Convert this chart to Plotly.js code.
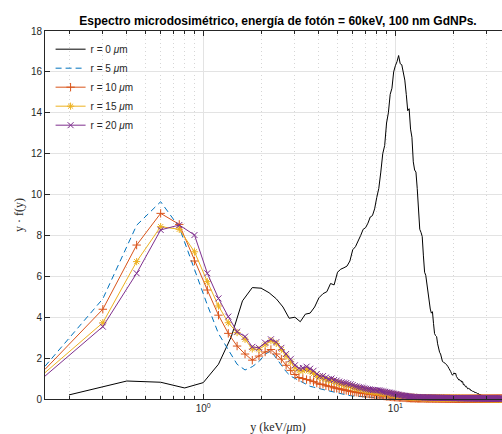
<!DOCTYPE html>
<html>
<head>
<meta charset="utf-8">
<script src="https://cdn.plot.ly/plotly-3.0.1.min.js"></script>
<style>
html,body{margin:0;padding:0;overflow:hidden;background:#fff;}
#chart{width:512px;height:434px;}
</style>
</head>
<body>
<div id="chart"></div>
<script>
// Series names
var seriesNames = ['r = 0 <i>μ</i>m', 'r = 5 <i>μ</i>m', 'r = 10 <i>μ</i>m', 'r = 15 <i>μ</i>m', 'r = 20 <i>μ</i>m'];

// r = 0 µm : lineal energy bins (keV/µm)
var yBins0 = [
 0.2,0.4,0.6,0.8,1.0,1.2,1.4,1.6,1.8,2.0,
 2.2,2.4,2.6,2.8,3.0,3.2,3.4,3.6,3.8,4.0,
 4.2,4.4,4.6,4.8,5.0,5.2,5.4,5.6,5.8,6.0,
 6.2,6.4,6.6,6.8,7.0,7.2,7.4,7.6,7.8,8.0,
 8.2,8.4,8.6,8.8,9.0,9.2,9.4,9.6,9.8,10.0,
 10.2,10.4,10.6,10.8,11.0,11.2,11.4,11.6,11.8,12.0,
 12.2,12.4,12.6,12.8,13.0,13.2,13.4,13.6,13.8,14.0,
 14.2,14.4,14.6,14.8,15.0,15.2,15.4,15.6,15.8,16.0,
 16.2,16.4,16.6,16.8,17.0,17.2,17.4,17.6,17.8,18.0,
 18.2,18.4,18.6,18.8,19.0,19.2,19.4,19.6,19.8,20.0,
 20.2,20.4,20.6,20.8,21.0,21.2,21.4,21.6,21.8,22.0,
 22.2,22.4,22.6,22.8,23.0,23.2,23.4,23.6,23.8,24.0,
 24.2,24.4,24.6,24.8,25.0,25.2,25.4,25.6,25.8,26.0,
 26.2,26.4,26.6,26.8,27.0,27.2,27.4,27.6,27.8,28.0,
 28.2,28.4,28.6
];
var yf_r0 = [
 0.2,0.88,0.82,0.54,0.8,1.7,3.05,4.8,5.45,5.42,
 5.2,4.9,4.5,3.95,4.0,3.78,4.15,4.2,4.5,4.95,
 5.15,5.25,5.65,5.58,6.2,6.35,6.42,6.5,6.75,7.3,
 7.45,7.7,8.0,8.3,8.38,8.6,8.9,8.97,9.3,9.85,
 10.3,11.1,12.0,12.4,13.5,14.0,14.9,15.2,16.0,16.3,
 16.5,16.8,16.4,16.35,16.0,15.6,14.9,14.1,14.2,13.2,
 12.8,11.6,11.2,11.1,10.3,9.1,8.3,8.15,7.95,7.0,
 6.2,6.05,5.6,5.3,5.0,4.4,4.2,4.27,3.7,3.2,
 3.1,3.05,2.7,2.4,2.28,2.2,2.0,1.83,1.8,1.78,
 1.74,1.7,1.6,1.58,1.5,1.45,1.35,1.25,1.17,1.2,
 1.28,1.22,1.26,1.1,1.02,0.96,0.93,0.95,0.88,0.9,
 0.82,0.85,0.7,0.72,0.62,0.6,0.62,0.55,0.5,0.52,
 0.48,0.5,0.42,0.4,0.42,0.38,0.35,0.38,0.33,0.3,
 0.34,0.28,0.27,0.25,0.28,0.22,0.22,0.2,0.19,0.2,
 0.17,0.18,0.15
];

// r = 5, 10, 15, 20 µm : lineal energy bins (keV/µm)
var yBins = [
 0.15,0.3,0.45,0.6,0.75,0.9,1.05,1.2,1.35,1.5,
 1.65,1.8,1.95,2.1,2.25,2.4,2.55,2.7,2.85,3.0,
 3.15,3.3,3.45,3.6,3.75,3.9,4.05,4.2,4.35,4.5,
 4.65,4.8,4.95,5.1,5.25,5.4,5.55,5.7,5.85,6.0,
 6.15,6.3,6.45,6.6,6.75,6.9,7.05,7.2,7.35,7.5,
 7.65,7.8,7.95,8.1,8.25,8.4,8.55,8.7,8.85,9.0,
 9.15,9.3,9.45,9.6,9.75,9.9,10.05,10.2,10.35,10.5,
 10.65,10.8,10.95,11.1,11.25,11.4,11.55,11.7,11.85,12.0,
 12.15,12.3,12.45,12.6,12.75,12.9,13.05,13.2,13.35,13.5,
 13.65,13.8,13.95,14.1,14.25,14.4,14.55,14.7,14.85,15.0,
 15.15,15.3,15.45,15.6,15.75,15.9,16.05,16.2,16.35,16.5,
 16.65,16.8,16.95,17.1,17.25,17.4,17.55,17.7,17.85,18.0,
 18.15,18.3,18.45,18.6,18.75,18.9,19.05,19.2,19.35,19.5,
 19.65,19.8,19.95,20.1,20.25,20.4,20.55,20.7,20.85,21.0,
 21.15,21.3,21.45,21.6,21.75,21.9,22.05,22.2,22.35,22.5,
 22.65,22.8,22.95,23.1,23.25,23.4,23.55,23.7,23.85,24.0,
 24.15,24.3,24.45,24.6,24.75,24.9,25.05,25.2,25.35,25.5,
 25.65,25.8,25.95,26.1,26.25,26.4,26.55,26.7,26.85,27.0,
 27.15,27.3,27.45,27.6,27.75,27.9,28.05,28.2,28.35,28.5,
 28.65,28.8,28.95,29.1,29.25,29.4,29.55,29.7,29.85,30.0,
 30.15,30.3,30.45,30.6,30.75,30.9,31.05,31.2,31.35,31.5,
 31.65,31.8,31.95,32.1,32.25,32.4,32.55,32.7,32.85,33.0,
 33.15,33.3,33.45,33.6,33.75,33.9,34.05,34.2,34.35,34.5,
 34.65,34.8,34.95,35.1,35.25,35.4,35.55,35.7,35.85,36.0
];

var yf_r5 = [
 1.6,4.9,8.5,9.65,8.4,6.3,4.6,3.2,2.4,1.7,
 1.42,1.58,1.83,2.2,2.35,2.0,1.66,1.34,1.12,1.01,
 0.9,0.8,0.7,0.62,0.58,0.55,0.5,0.46,0.43,0.4,
 0.38,0.35,0.31,0.28,0.25,0.22,0.2,0.18,0.16,0.15,
 0.14,0.13,0.12,0.11,0.1,0.1,0.09,0.09,0.08,0.08,
 0.07,0.07,0.06,0.06,0.06,0.05,0.05,0.05,0.05,0.04,
 0.04,0.04,0.04,0.03,0.03,0.03,0.03,0.03,0.03,0.02,
 0.02,0.02,0.02,0.02,0.02,0.02,0.02,0.02,0.02,0.02,
 0.02,0.02,0.01,0.02,0.02,0.01,0.02,0.01,0.02,0.01,
 0.01,0.02,0.01,0.01,0.02,0.01,0.01,0.01,0.02,0.01,
 0.01,0.01,0.01,0.02,0.01,0.01,0.01,0.01,0.01,0.01,
 0.01,0.01,0.01,0.01,0.01,0.01,0.01,0.01,0.01,0.01,
 0.01,0.01,0.01,0.01,0.01,0.01,0.01,0.01,0.01,0.01,
 0.01,0.01,0.01,0.01,0.01,0.01,0.01,0.01,0.01,0.01,
 0.01,0.01,0.01,0.01,0.01,0.01,0.01,0.01,0.01,0.01,
 0.01,0.01,0.01,0.01,0.01,0.01,0.01,0.01,0.01,0.01,
 0.01,0.01,0.01,0.01,0.01,0.01,0.01,0.01,0.01,0.01,
 0.01,0.01,0.01,0.01,0.01,0.01,0.01,0.01,0.01,0.01,
 0.01,0.01,0.01,0.01,0.01,0.01,0.01,0.01,0.01,0.01,
 0.01,0.01,0.01,0.01,0.01,0.01,0.01,0.01,0.01,0.01,
 0.01,0.01,0.01,0.01,0.01,0.01,0.01,0.01,0.01,0.01,
 0.01,0.01,0.01,0.01,0.01,0.01,0.01,0.01,0.01,0.01,
 0.01,0.01,0.01,0.01,0.01,0.01,0.01,0.01,0.01,0.01,
 0.01,0.01,0.01,0.01,0.01,0.01,0.01,0.01,0.01,0.01
];

var yf_r10 = [
 1.45,4.39,7.53,9.08,8.54,6.75,5.33,4.1,3.21,2.59,
 2.2,1.9,2.1,2.3,2.42,2.2,1.95,1.65,1.4,1.2,
 1.05,1.0,0.95,0.92,0.85,0.78,0.72,0.72,0.65,0.62,
 0.6,0.55,0.52,0.5,0.47,0.45,0.42,0.4,0.37,0.36,
 0.34,0.33,0.31,0.3,0.28,0.27,0.26,0.25,0.24,0.23,
 0.22,0.21,0.2,0.19,0.18,0.17,0.16,0.15,0.14,0.13,
 0.12,0.12,0.11,0.1,0.1,0.09,0.09,0.08,0.08,0.07,
 0.07,0.07,0.06,0.06,0.06,0.05,0.05,0.05,0.05,0.04,
 0.04,0.04,0.04,0.04,0.03,0.04,0.03,0.03,0.03,0.03,
 0.03,0.03,0.03,0.03,0.02,0.03,0.02,0.03,0.02,0.02,
 0.02,0.02,0.03,0.02,0.02,0.02,0.02,0.02,0.02,0.02,
 0.02,0.02,0.02,0.01,0.02,0.02,0.02,0.01,0.02,0.02,
 0.02,0.01,0.02,0.02,0.01,0.02,0.01,0.02,0.01,0.01,
 0.02,0.01,0.01,0.02,0.01,0.01,0.01,0.02,0.01,0.01,
 0.01,0.01,0.02,0.01,0.01,0.01,0.01,0.01,0.01,0.01,
 0.01,0.01,0.01,0.01,0.01,0.01,0.01,0.01,0.01,0.01,
 0.01,0.01,0.01,0.01,0.01,0.01,0.01,0.01,0.01,0.01,
 0.01,0.01,0.01,0.01,0.01,0.01,0.01,0.01,0.01,0.01,
 0.01,0.01,0.01,0.01,0.01,0.01,0.01,0.01,0.01,0.01,
 0.01,0.01,0.01,0.01,0.01,0.01,0.01,0.01,0.01,0.01,
 0.01,0.01,0.01,0.01,0.01,0.01,0.01,0.01,0.01,0.01,
 0.01,0.01,0.01,0.01,0.01,0.01,0.01,0.01,0.01,0.01,
 0.01,0.01,0.01,0.01,0.01,0.01,0.01,0.01,0.01,0.01,
 0.01,0.01,0.01,0.01,0.01,0.01,0.01,0.01,0.01,0.01
];

var yf_r15 = [
 1.29,3.73,6.72,8.43,8.3,7.2,5.74,4.55,3.73,3.25,
 2.92,2.45,2.42,2.65,2.85,2.72,2.42,2.1,1.82,1.52,
 1.38,1.38,1.45,1.35,1.25,1.12,1.05,1.02,0.95,0.9,
 0.9,0.85,0.8,0.76,0.72,0.7,0.67,0.64,0.62,0.58,
 0.55,0.53,0.51,0.49,0.47,0.45,0.43,0.41,0.4,0.38,
 0.37,0.36,0.35,0.34,0.33,0.32,0.3,0.29,0.28,0.27,
 0.26,0.25,0.24,0.22,0.21,0.2,0.19,0.18,0.17,0.16,
 0.15,0.14,0.13,0.12,0.12,0.11,0.1,0.1,0.09,0.09,
 0.09,0.08,0.08,0.08,0.07,0.08,0.07,0.07,0.07,0.07,
 0.06,0.07,0.06,0.06,0.06,0.06,0.05,0.06,0.06,0.05,
 0.05,0.05,0.05,0.05,0.05,0.05,0.04,0.05,0.05,0.04,
 0.04,0.05,0.04,0.04,0.04,0.04,0.04,0.04,0.04,0.04,
 0.04,0.04,0.04,0.03,0.04,0.04,0.03,0.04,0.03,0.04,
 0.03,0.03,0.04,0.03,0.03,0.03,0.03,0.03,0.03,0.03,
 0.03,0.03,0.03,0.03,0.03,0.02,0.03,0.03,0.03,0.02,
 0.03,0.02,0.03,0.03,0.02,0.03,0.02,0.03,0.02,0.02,
 0.02,0.03,0.02,0.02,0.03,0.02,0.02,0.02,0.03,0.02,
 0.02,0.02,0.02,0.03,0.02,0.02,0.02,0.02,0.02,0.02,
 0.02,0.02,0.02,0.02,0.02,0.02,0.02,0.02,0.02,0.02,
 0.02,0.02,0.01,0.02,0.02,0.02,0.02,0.01,0.02,0.02,
 0.02,0.01,0.02,0.02,0.01,0.02,0.02,0.01,0.02,0.01,
 0.01,0.02,0.01,0.02,0.01,0.01,0.02,0.01,0.01,0.02,
 0.01,0.01,0.01,0.02,0.01,0.01,0.01,0.01,0.02,0.01,
 0.01,0.01,0.01,0.01,0.01,0.01,0.01,0.01,0.01,0.01
];

var yf_r20 = [
 1.12,3.54,6.15,8.27,8.51,8.02,6.15,4.92,4.03,3.29,
 3.05,2.55,2.5,2.75,2.92,2.78,2.5,2.2,1.95,1.65,
 1.5,1.52,1.58,1.48,1.38,1.22,1.12,1.12,1.05,0.98,
 1.0,0.93,0.9,0.85,0.82,0.8,0.78,0.74,0.72,0.68,
 0.63,0.61,0.58,0.56,0.55,0.52,0.5,0.48,0.47,0.45,
 0.44,0.44,0.43,0.42,0.42,0.4,0.38,0.36,0.35,0.33,
 0.32,0.31,0.3,0.28,0.26,0.25,0.24,0.23,0.21,0.2,
 0.19,0.18,0.17,0.16,0.15,0.15,0.14,0.13,0.12,0.12,
 0.11,0.1,0.11,0.1,0.09,0.1,0.09,0.09,0.08,0.09,
 0.08,0.08,0.09,0.08,0.07,0.08,0.07,0.08,0.07,0.07,
 0.07,0.06,0.07,0.07,0.06,0.07,0.06,0.06,0.07,0.06,
 0.06,0.06,0.05,0.06,0.06,0.05,0.06,0.05,0.05,0.06,
 0.05,0.05,0.06,0.05,0.05,0.05,0.04,0.05,0.05,0.05,
 0.04,0.05,0.05,0.04,0.05,0.04,0.04,0.05,0.04,0.04,
 0.04,0.04,0.05,0.04,0.04,0.04,0.03,0.04,0.04,0.04,
 0.04,0.03,0.04,0.04,0.03,0.04,0.04,0.03,0.04,0.03,
 0.03,0.04,0.03,0.03,0.04,0.03,0.03,0.03,0.04,0.03,
 0.03,0.03,0.03,0.04,0.03,0.03,0.03,0.03,0.03,0.03,
 0.03,0.03,0.02,0.03,0.03,0.03,0.03,0.02,0.03,0.03,
 0.03,0.02,0.03,0.03,0.02,0.03,0.02,0.03,0.02,0.03,
 0.02,0.03,0.02,0.02,0.03,0.02,0.02,0.03,0.02,0.02,
 0.02,0.02,0.03,0.02,0.02,0.02,0.02,0.02,0.03,0.02,
 0.02,0.02,0.02,0.02,0.03,0.02,0.02,0.02,0.02,0.02,
 0.02,0.02,0.02,0.02,0.02,0.02,0.02,0.01,0.02,0.02
];

// Axis ticks
var majorTickVals = [1, 10];
var majorTickText = ['10<sup>0</sup>', '10<sup>1</sup>'];
var minorTickVals = [0.2,0.3,0.4,0.5,0.6,0.7,0.8,0.9,2,3,4,5,6,7,8,9,20,30];

var colors = ['#000000', '#0072BD', '#D95319', '#EDB120', '#7E2F8E'];
var symbols = [null, null, 'cross-thin-open', 'asterisk-open', 'x-thin-open'];
var ySeries = [yf_r0, yf_r5, yf_r10, yf_r15, yf_r20];

var traces = ySeries.map(function (ys, i) {
  var t = {
    type: 'scatter',
    x: i === 0 ? yBins0 : yBins,
    y: ys,
    name: seriesNames[i],
    mode: symbols[i] ? 'lines+markers' : 'lines',
    line: { color: colors[i], width: 1, dash: i === 1 ? '6px,4px' : 'solid' },
    cliponaxis: false
  };
  if (symbols[i]) {
    t.marker = { symbol: symbols[i], size: 6, color: colors[i], line: { color: colors[i], width: 1 } };
  }
  return t;
});

var axisFont = { family: 'Liberation Sans, Arial, sans-serif', size: 10, color: '#262626' };

var layout = {
  width: 512,
  height: 434,
  margin: { l: 45, r: 1, t: 31, b: 35 },
  paper_bgcolor: '#ffffff',
  plot_bgcolor: '#ffffff',
  title: {
    text: 'Espectro microdosimétrico, energía de fotón = 60keV, 100 nm GdNPs.',
    font: { family: 'Liberation Sans, Arial, sans-serif', size: 12, color: '#000000', weight: 'bold' },
    x: 0.5, xref: 'paper', xanchor: 'center',
    y: 0.952, yref: 'container', yanchor: 'middle'
  },
  showlegend: true,
  legend: {
    x: 0.012, y: 0.99, xanchor: 'left', yanchor: 'top',
    bgcolor: 'rgba(255,255,255,0)', borderwidth: 0,
    font: axisFont
  },
  xaxis: {
    type: 'log',
    range: [-0.8239, 1.6021],
    tickmode: 'array', tickvals: majorTickVals, ticktext: majorTickText,
    ticks: 'inside', ticklen: 5, tickcolor: '#262626', tickwidth: 1,
    showgrid: true, gridcolor: '#e3e3e3', gridwidth: 1,
    minor: { tickmode: 'array', tickvals: minorTickVals, ticks: 'inside', ticklen: 3, tickcolor: '#262626',
             showgrid: true, gridcolor: '#d6d6d6', griddash: '1px,3px', gridwidth: 1 },
    showline: true, linecolor: '#262626', linewidth: 1, mirror: 'ticks',
    zeroline: false,
    tickfont: axisFont,
    title: { text: 'y (keV/<i>μ</i>m)', font: { family: 'Liberation Serif, Times New Roman, serif', size: 12, color: '#262626' }, standoff: 12 }
  },
  yaxis: {
    range: [0, 18],
    tickmode: 'linear', tick0: 0, dtick: 2,
    ticks: 'inside', ticklen: 5, tickcolor: '#262626', tickwidth: 1,
    showgrid: true, gridcolor: '#e3e3e3', gridwidth: 1,
    showline: true, linecolor: '#262626', linewidth: 1, mirror: 'ticks',
    zeroline: false,
    tickfont: axisFont,
    title: { text: 'y · f(y)', font: { family: 'Liberation Serif, Times New Roman, serif', size: 12, color: '#262626' }, standoff: 4 }
  }
};

Plotly.newPlot('chart', traces, layout, { displayModeBar: false, staticPlot: true });
</script>
</body>
</html>
